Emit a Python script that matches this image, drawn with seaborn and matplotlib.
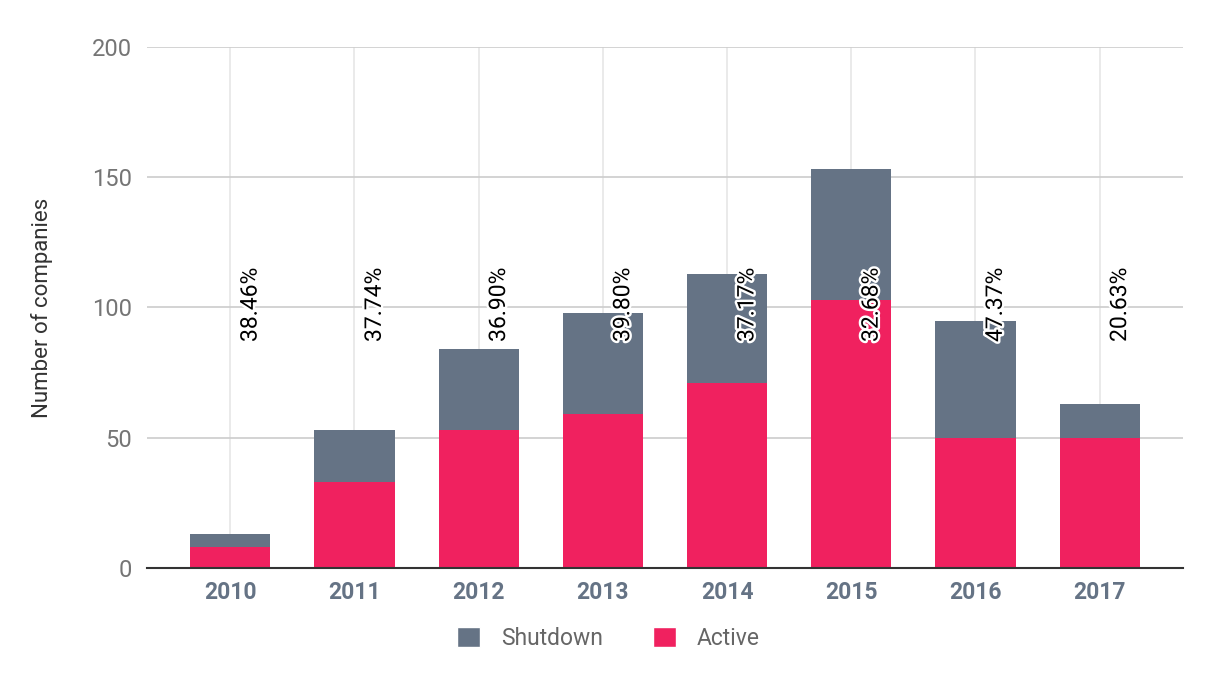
import pandas as pd
import matplotlib.pyplot as plt
import matplotlib.patheffects as pe
import seaborn as sns
from matplotlib.patches import Patch

# values
years = ["2010", "2011", "2012", "2013", "2014", "2015", "2016", "2017"]
active = [8, 33, 53, 59, 71, 103, 50, 50]
shutdown = [5, 20, 31, 39, 42, 50, 45, 13]
pct_labels = ["38.46%", "37.74%", "36.90%", "39.80%", "37.17%", "32.68%", "47.37%", "20.63%"]

df = pd.DataFrame({"year": years, "active": active, "shutdown": shutdown})
df["total"] = df["active"] + df["shutdown"]

sns.set_style("white")
plt.rcParams["font.family"] = ["Roboto", "DejaVu Sans"]

grey = "#657385"
pink = "#f0215f"

fig = plt.figure(figsize=(12.17, 6.85), dpi=100)
ax = fig.add_axes([0.1208, 0.1708, 0.8512, 0.7606])

# stacked bars: total first, active on top of it
sns.barplot(data=df, x="year", y="total", color=grey, width=0.645,
            saturation=1, linewidth=0, ax=ax, zorder=3)
sns.barplot(data=df, x="year", y="active", color=pink, width=0.645,
            saturation=1, linewidth=0, ax=ax, zorder=3)

for i, lab in enumerate(pct_labels):
    ax.text(i + 0.16, 101, lab, rotation=90, ha="center", va="center",
            fontsize=16.5, color="black", zorder=5,
            path_effects=[pe.withStroke(linewidth=3.5, foreground="white")])

ax.set_ylim(0, 200)
ax.set_xlim(-0.67, 7.67)
ax.set_yticks([0, 50, 100, 150, 200])
ax.yaxis.grid(True, color="#cccccc", linewidth=1.2, zorder=0)
ax.xaxis.grid(True, color="#e6e6e6", linewidth=1.2, zorder=0)
ax.set_axisbelow(True)
for s in ["top", "right", "left"]:
    ax.spines[s].set_visible(False)
ax.spines["bottom"].set_color("#333333")
ax.spines["bottom"].set_linewidth(1.5)
ax.spines["bottom"].set_zorder(4)

ax.tick_params(axis="y", length=0, labelsize=17, labelcolor="#757575", pad=11)
ax.tick_params(axis="x", length=0, labelsize=16.5, labelcolor=grey, pad=9)
for t in ax.get_xticklabels():
    t.set_fontweight("bold")

ax.set_xlabel("")
ax.set_ylabel("Number of companies", fontsize=16, color="#333333", labelpad=28)

handles = [Patch(facecolor=grey, label="Shutdown"), Patch(facecolor=pink, label="Active")]
fig.legend(handles=handles, loc="center", bbox_to_anchor=(0.5, 0.068), ncol=2,
           frameon=False, fontsize=16.5, labelcolor="#666666",
           handlelength=1.0, handleheight=1.0, columnspacing=2.2, handletextpad=0.9)

plt.savefig("out.png", dpi=100)
